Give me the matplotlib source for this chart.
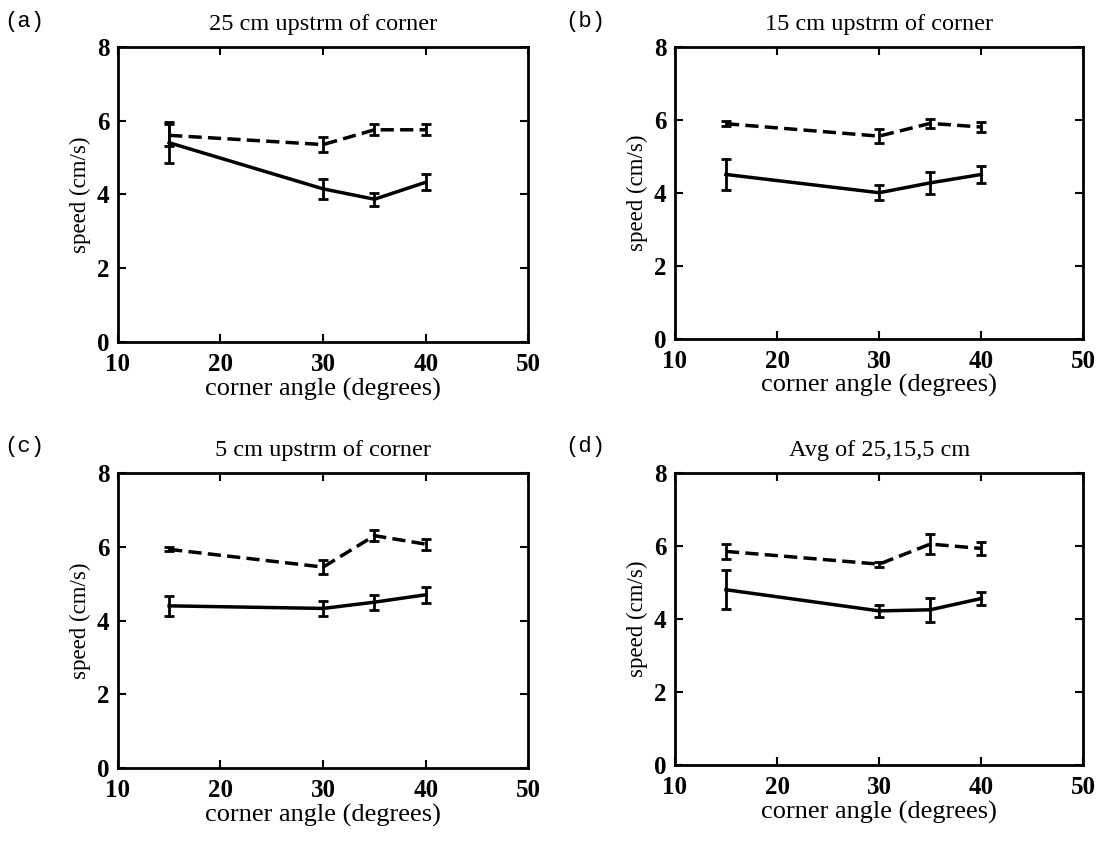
import matplotlib
matplotlib.use("Agg")
import matplotlib.pyplot as plt
import numpy as np

#   Data
#===============================================
angles = [15, 30, 35, 40]

titles = ["25 cm upstrm of corner", "15 cm upstrm of corner",
          "5 cm upstrm of corner", "Avg of 25,15,5 cm"]
tags = ["(a)", "(b)", "(c)", "(d)"]

# dashed series (upper)
dashA = [5.6, 5.35, 5.75, 5.75]
dashAerr = [0.3, 0.2, 0.15, 0.15]
dashB = [5.89, 5.55, 5.9, 5.8]
dashBerr = [0.07, 0.2, 0.13, 0.15]
dashC = [5.93, 5.45, 6.3, 6.07]
dashCerr = [0.05, 0.2, 0.15, 0.15]
dashD = [5.85, 5.5, 6.05, 5.93]
dashDerr = [0.2, 0.07, 0.28, 0.17]

# solid series (lower)
solA = [5.4, 4.15, 3.87, 4.33]
solAerr = [0.55, 0.28, 0.17, 0.22]
solB = [4.5, 4.0, 4.27, 4.5]
solBerr = [0.42, 0.2, 0.3, 0.22]
solC = [4.4, 4.33, 4.5, 4.7]
solCerr = [0.27, 0.2, 0.2, 0.22]
solD = [4.8, 4.22, 4.25, 4.56]
solDerr = [0.54, 0.17, 0.33, 0.17]

dashed = [dashA, dashB, dashC, dashD]
dashedErr = [dashAerr, dashBerr, dashCerr, dashDerr]
solid = [solA, solB, solC, solD]
solidErr = [solAerr, solBerr, solCerr, solDerr]

xTicks = [10, 20, 30, 40, 50]
yTicks = [0, 2, 4, 6, 8]

#   Plotting
#===============================================
plt.rcParams["font.family"] = ["Liberation Serif", "DejaVu Serif"]

fig = plt.figure(figsize=(11.01, 8.49), dpi=100)

boxes = [[0.107, 0.597, 0.373, 0.348],
         [0.613, 0.601, 0.371, 0.344],
         [0.107, 0.095, 0.373, 0.348],
         [0.613, 0.099, 0.371, 0.344]]
tagPos = [(0.004, 0.968), (0.513, 0.968), (0.004, 0.468), (0.513, 0.468)]

for i in range(4):
    ax = fig.add_axes(boxes[i])
    ax.errorbar(angles, solid[i], yerr=solidErr[i], color="black", lw=2.5,
                capsize=3.5, elinewidth=2, capthick=2)
    ax.errorbar(angles, dashed[i], yerr=dashedErr[i], color="black", lw=2.5,
                ls=(0, (3.8, 1.8)), capsize=3.5, elinewidth=2, capthick=2)
    ax.set_xlim(10, 50)
    ax.set_ylim(0, 8)
    ax.set_xticks(xTicks)
    ax.set_yticks(yTicks)
    ax.tick_params(direction="in", top=True, right=True, length=6, width=1.5,
                   labelsize=18)
    ax.tick_params(axis="x", pad=8)
    ax.tick_params(axis="y", pad=6)
    for lab in ax.get_xticklabels() + ax.get_yticklabels():
        lab.set_fontweight("bold")
    for sp in ax.spines.values():
        sp.set_linewidth(2)
    ax.set_xlabel("corner angle (degrees)", fontsize=19, labelpad=1)
    ax.set_ylabel("speed (cm/s)", fontsize=16.5, labelpad=4)
    ax.set_title(titles[i], fontsize=17.5, pad=12)
    fig.text(tagPos[i][0], tagPos[i][1], tags[i], fontsize=16,
             family="Liberation Mono")

fig.savefig("out.png", dpi=100)
